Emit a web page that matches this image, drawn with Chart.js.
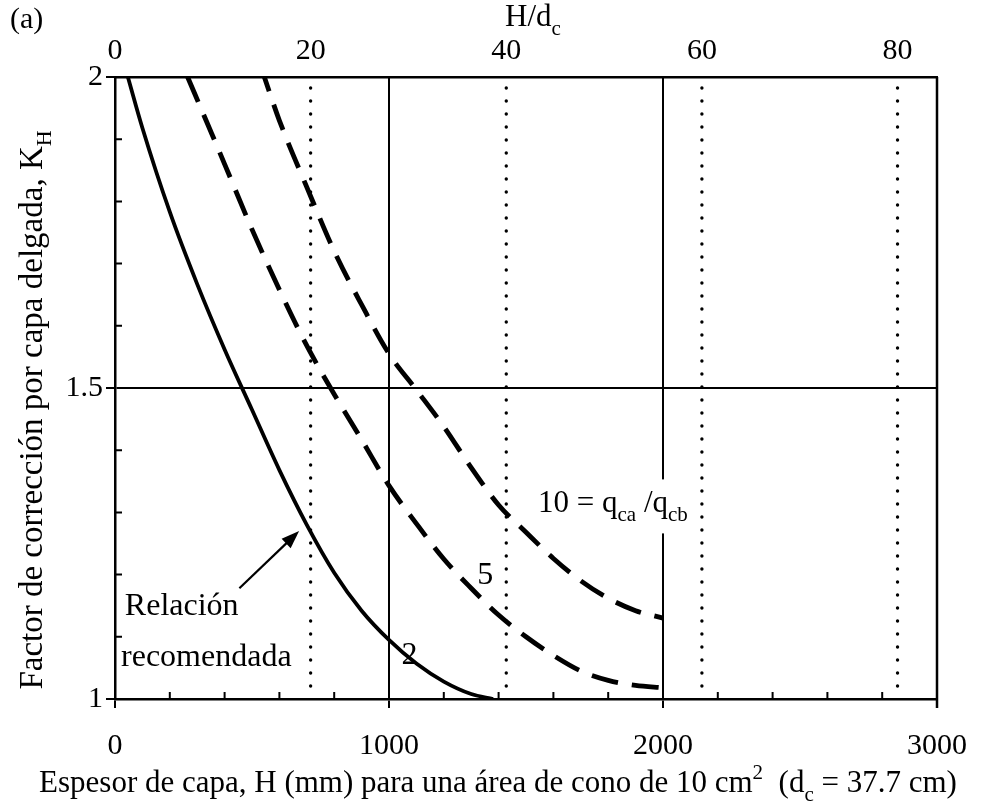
<!DOCTYPE html>
<html lang="es">
<head>
<meta charset="UTF-8">
<title>Factor de corrección por capa delgada</title>
<script src="https://cdn.jsdelivr.net/npm/chart.js"></script>
<style>
  html, body { margin: 0; padding: 0; background: #fff; }
  #wrap { width: 987px; height: 802px; }
</style>
</head>
<body>
<div id="wrap"><canvas id="chart" width="987" height="802"></canvas></div>
<script>
  // espesor de capa H (mm) y factor K_H
  const h2 = [47, 100, 200, 300, 400, 500, 600, 700, 800, 900, 1000, 1100, 1200, 1300, 1380];
  const k2 = [2.0, 1.918, 1.783, 1.667, 1.562, 1.465, 1.368, 1.28, 1.203, 1.142, 1.095, 1.057, 1.028, 1.008, 1.0];

  const h5 = [265, 350, 400, 500, 600, 700, 800, 900, 1000, 1100, 1200, 1300, 1400, 1500, 1600, 1700, 1800, 1900, 2000];
  const k5 = [2.0, 1.912, 1.86, 1.755, 1.658, 1.568, 1.49, 1.417, 1.343, 1.282, 1.225, 1.178, 1.135, 1.10, 1.07, 1.045, 1.03, 1.022, 1.018];

  const h10 = [545, 600, 700, 800, 900, 1000, 1100, 1200, 1300, 1400, 1500, 1600, 1700, 1800, 1900, 2000];
  const k10 = [2.0, 1.93, 1.823, 1.72, 1.634, 1.555, 1.497, 1.438, 1.372, 1.312, 1.268, 1.226, 1.19, 1.162, 1.142, 1.13];

  const xTicks = [0, 1000, 2000, 3000];
  const yTicks = [1, 1.5, 2];
  const topTicks = [0, 20, 40, 60, 80];
  const dc = 35.7; // mm, escala superior H/dc

  const serif = '"Liberation Serif", "Times New Roman", serif';

  function pts(xs, ys) {
    return xs.map((v, i) => ({ x: v, y: ys[i] }));
  }

  // texto con subíndices / superíndices
  function richWidth(ctx, parts, size) {
    let w = 0;
    parts.forEach(p => {
      ctx.font = (p.sub || p.sup ? Math.round(size * 0.68) : size) + 'px ' + serif;
      w += ctx.measureText(p.t).width;
    });
    return w;
  }
  function drawRich(ctx, parts, x, y, size, align) {
    const w = richWidth(ctx, parts, size);
    let cx = align === 'center' ? x - w / 2 : x;
    ctx.textBaseline = 'alphabetic';
    ctx.textAlign = 'left';
    parts.forEach(p => {
      const s = p.sub || p.sup ? Math.round(size * 0.68) : size;
      ctx.font = s + 'px ' + serif;
      let dy = 0;
      if (p.sub) dy = size * 0.28;
      if (p.sup) dy = -size * 0.42;
      ctx.fillText(p.t, cx, y + dy);
      cx += ctx.measureText(p.t).width;
    });
  }

  const extras = {
    id: 'extras',
    beforeDatasetsDraw(chart) {
      const { ctx, chartArea: a, scales } = chart;
      const x = scales.x, y = scales.y, x2 = scales.x2;
      ctx.save();
      ctx.strokeStyle = '#000';

      // marcas menores hacia dentro
      ctx.lineWidth = 2;
      ctx.beginPath();
      for (let v = 200; v < 3000; v += 200) {
        if (v % 1000 === 0) continue;
        const px = x.getPixelForValue(v);
        ctx.moveTo(px, a.bottom);
        ctx.lineTo(px, a.bottom - 7);
      }
      for (let i = 1; i < 10; i++) {
        if (i === 5) continue;
        const py = y.getPixelForValue(1 + i / 10);
        ctx.moveTo(a.left, py);
        ctx.lineTo(a.left + 7, py);
      }
      ctx.stroke();

      // líneas punteadas en H/dc = 20, 40, 60, 80
      ctx.lineWidth = 3.4;
      ctx.lineCap = 'round';
      ctx.setLineDash([0, 13]);
      topTicks.slice(1).forEach(v => {
        const px = x2.getPixelForValue(v);
        ctx.beginPath();
        ctx.moveTo(px, a.top + 11);
        ctx.lineTo(px, a.bottom - 3);
        ctx.stroke();
      });
      ctx.setLineDash([]);
      ctx.lineCap = 'butt';

      // borde derecho
      ctx.lineWidth = 2.5;
      ctx.beginPath();
      ctx.moveTo(a.right, a.top);
      ctx.lineTo(a.right, a.bottom + 9);
      ctx.stroke();

      // fondo blanco de la etiqueta 10 (corta la rejilla, no las curvas)
      const lx = x.getPixelForValue(1544), ly = y.getPixelForValue(1.30);
      const lab10 = [{ t: '10 = q' }, { t: 'ca', sub: true }, { t: ' /q' }, { t: 'cb', sub: true }];
      const w10 = richWidth(ctx, lab10, 31);
      ctx.fillStyle = '#fff';
      ctx.fillRect(lx - 4, ly - 33, w10 + 16, 54);
      ctx.restore();
    },
    afterDatasetsDraw(chart) {
      const { ctx, scales } = chart;
      const x = scales.x, y = scales.y;
      ctx.save();
      ctx.fillStyle = '#000';
      ctx.strokeStyle = '#000';

      const lx = x.getPixelForValue(1544), ly = y.getPixelForValue(1.30);
      const lab10 = [{ t: '10 = q' }, { t: 'ca', sub: true }, { t: ' /q' }, { t: 'cb', sub: true }];
      drawRich(ctx, lab10, lx, ly, 31, 'left');

      ctx.font = '32px ' + serif;
      ctx.textAlign = 'center';
      ctx.textBaseline = 'middle';
      ctx.fillText('5', x.getPixelForValue(1351), y.getPixelForValue(1.198));
      ctx.fillText('2', x.getPixelForValue(1075), y.getPixelForValue(1.07));

      ctx.textAlign = 'left';
      ctx.fillText('Relación', x.getPixelForValue(36), y.getPixelForValue(1.148));
      ctx.fillText('recomendada', x.getPixelForValue(22), y.getPixelForValue(1.066));

      // flecha
      const x0 = x.getPixelForValue(454), y0 = y.getPixelForValue(1.178);
      const x1 = x.getPixelForValue(672), y1 = y.getPixelForValue(1.27);
      const ang = Math.atan2(y1 - y0, x1 - x0);
      ctx.lineWidth = 2.2;
      ctx.beginPath();
      ctx.moveTo(x0, y0);
      ctx.lineTo(x1 - 12 * Math.cos(ang), y1 - 12 * Math.sin(ang));
      ctx.stroke();
      ctx.beginPath();
      ctx.moveTo(x1, y1);
      ctx.lineTo(x1 - 18 * Math.cos(ang) + 6.5 * Math.sin(ang), y1 - 18 * Math.sin(ang) - 6.5 * Math.cos(ang));
      ctx.lineTo(x1 - 18 * Math.cos(ang) - 6.5 * Math.sin(ang), y1 - 18 * Math.sin(ang) + 6.5 * Math.cos(ang));
      ctx.closePath();
      ctx.fill();
      ctx.restore();
    },
    afterDraw(chart) {
      const { ctx, chartArea: a } = chart;
      ctx.save();
      ctx.fillStyle = '#000';

      ctx.font = '30px ' + serif;
      ctx.textAlign = 'left';
      ctx.textBaseline = 'middle';
      ctx.fillText('(a)', 10, 20);

      drawRich(ctx, [{ t: 'H/d' }, { t: 'c', sub: true }], 533, 26, 31, 'center');

      drawRich(ctx, [
        { t: 'Espesor de capa, H (mm) para una área de cono de 10 cm' },
        { t: '2', sup: true },
        { t: '  (d' }, { t: 'c', sub: true }, { t: ' = 37.7 cm)' }
      ], 498, 792, 31, 'center');

      ctx.translate(42, (a.top + a.bottom) / 2 + 22);
      ctx.rotate(-Math.PI / 2);
      drawRich(ctx, [{ t: 'Factor de corrección por capa delgada, K' }, { t: 'H', sub: true }], 0, 0, 33, 'center');
      ctx.restore();
    }
  };

  const ctx = document.getElementById('chart').getContext('2d');
  window.myChart = new Chart(ctx, {
    type: 'line',
    data: {
      datasets: [
        {
          label: 'q_ca/q_cb = 2',
          data: pts(h2, k2),
          borderColor: '#000',
          borderWidth: 3.8,
          pointRadius: 0,
          cubicInterpolationMode: 'monotone'
        },
        {
          label: 'q_ca/q_cb = 5',
          data: pts(h5, k5),
          borderColor: '#000',
          borderWidth: 4.8,
          borderDash: [27, 14],
          pointRadius: 0,
          cubicInterpolationMode: 'monotone'
        },
        {
          label: 'q_ca/q_cb = 10',
          data: pts(h10, k10),
          borderColor: '#000',
          borderWidth: 4.8,
          borderDash: [27, 14],
          borderDashOffset: 12,
          pointRadius: 0,
          cubicInterpolationMode: 'monotone'
        }
      ]
    },
    options: {
      responsive: false,
      animation: false,
      devicePixelRatio: 1,
      layout: { padding: { left: 0, right: 46, top: 0, bottom: 0 } },
      plugins: {
        legend: { display: false },
        tooltip: { enabled: false }
      },
      scales: {
        x: {
          type: 'linear',
          position: 'bottom',
          min: 0,
          max: 3000,
          afterBuildTicks: s => { s.ticks = xTicks.map(v => ({ value: v })); },
          afterFit: s => { s.height = 103; },
          grid: {
            color: c => (c.tick && (c.tick.value === 1000 || c.tick.value === 2000)) ? '#000' : 'rgba(0,0,0,0)',
            tickColor: '#000',
            lineWidth: 2,
            tickLength: 9
          },
          border: { color: '#000', width: 2.5 },
          ticks: {
            color: '#000',
            font: { family: serif, size: 30 },
            padding: 20,
            maxRotation: 0,
            callback: v => String(v)
          }
        },
        x2: {
          type: 'linear',
          position: 'top',
          min: 0,
          max: 3000 / dc,
          afterBuildTicks: s => { s.ticks = topTicks.map(v => ({ value: v })); },
          afterFit: s => { s.height = 77; },
          grid: { display: false },
          border: { display: true, color: '#000', width: 2.5 },
          ticks: { color: '#000', font: { family: serif, size: 30 }, padding: 0, maxRotation: 0 }
        },
        y: {
          type: 'linear',
          position: 'left',
          min: 1,
          max: 2,
          afterBuildTicks: s => { s.ticks = yTicks.map(v => ({ value: v })); },
          afterFit: s => { s.width = 115; },
          grid: {
            color: c => (c.tick && c.tick.value === 1.5) ? '#000' : 'rgba(0,0,0,0)',
            tickColor: '#000',
            lineWidth: 2,
            tickLength: 9
          },
          border: { color: '#000', width: 2.5 },
          ticks: {
            color: '#000',
            font: { family: serif, size: 30 },
            padding: 3,
            callback: v => String(v)
          }
        }
      }
    },
    plugins: [extras]
  });
</script>
</body>
</html>
